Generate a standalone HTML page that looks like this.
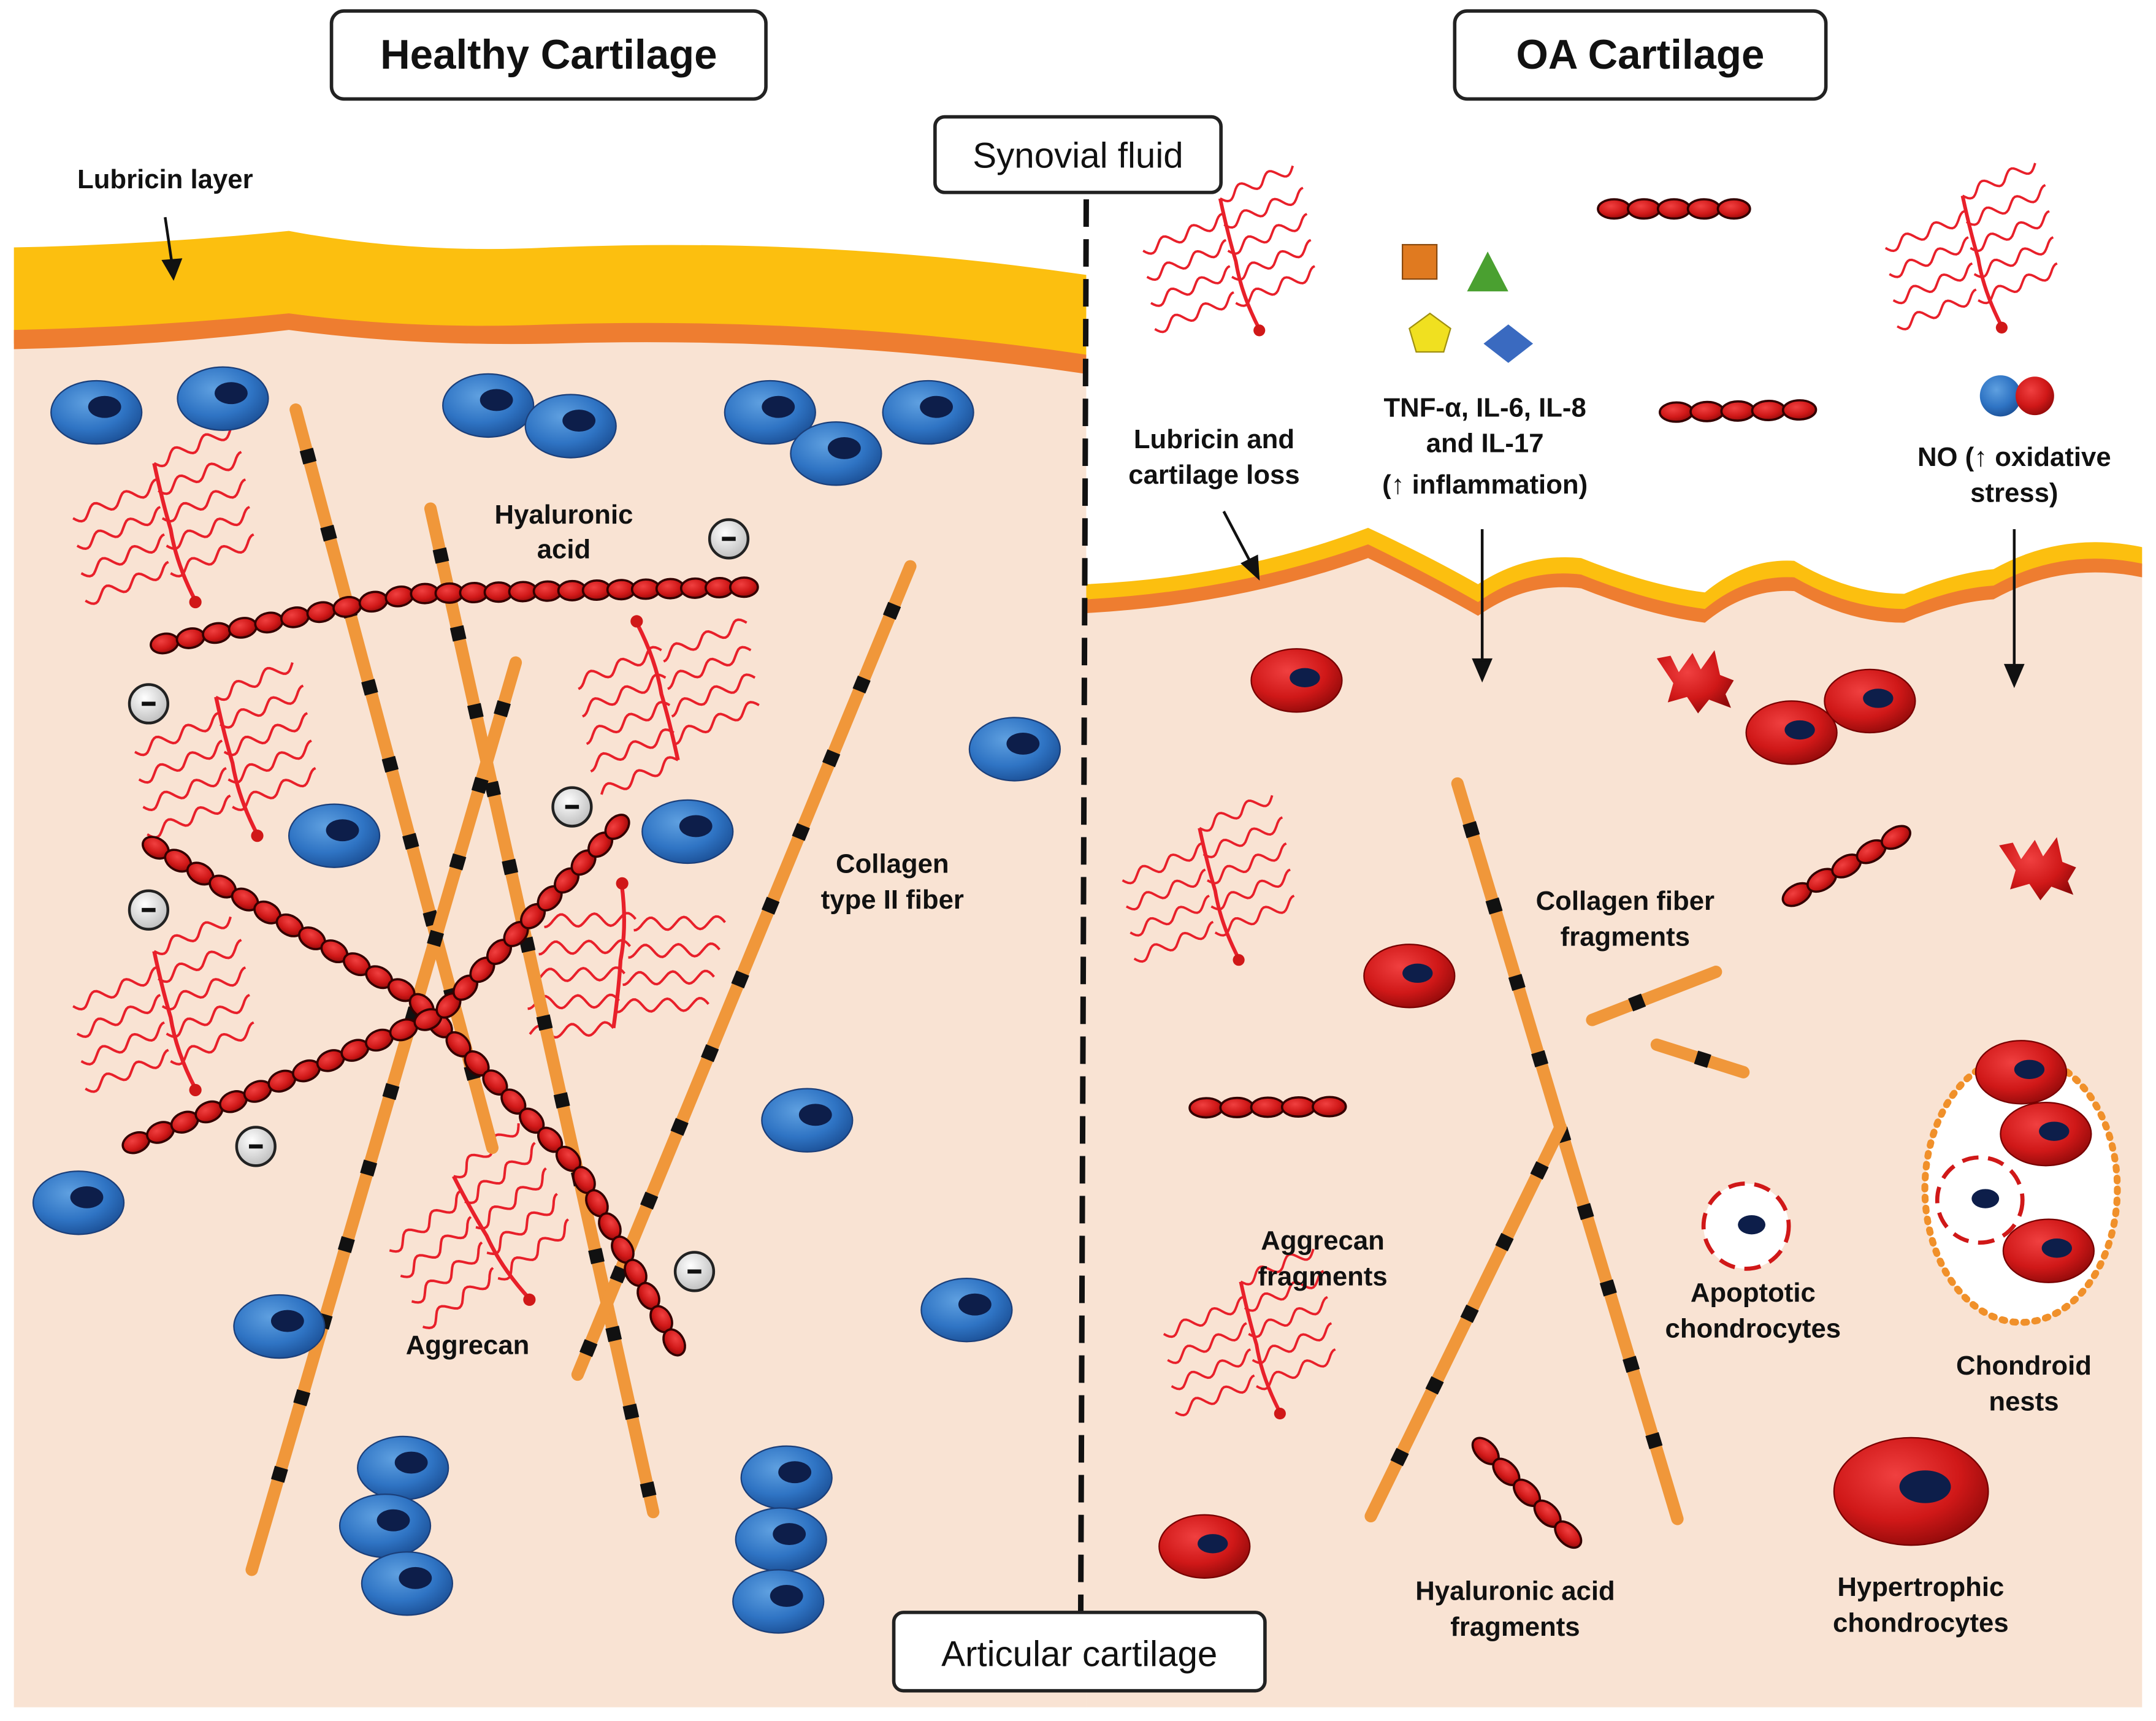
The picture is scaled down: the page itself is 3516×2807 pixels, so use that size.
<!DOCTYPE html>
<html><head><meta charset="utf-8">
<style>
html,body{margin:0;padding:0;background:#fff;}
svg{display:block;}
text{font-family:"Liberation Sans",Arial,sans-serif;}
.lb{font-weight:bold;font-size:19.5px;fill:#111;text-anchor:middle;}
</style></head><body>
<svg id="s" width="3516" height="2807" viewBox="0 0 1568 1252" xmlns="http://www.w3.org/2000/svg">
<defs>
<radialGradient id="gb" cx="40%" cy="35%" r="70%"><stop offset="0" stop-color="#5fa0e0"/><stop offset="0.6" stop-color="#2f74c4"/><stop offset="1" stop-color="#1b4f95"/></radialGradient>
<radialGradient id="gr" cx="40%" cy="35%" r="70%"><stop offset="0" stop-color="#f04040"/><stop offset="0.6" stop-color="#d01818"/><stop offset="1" stop-color="#900a0a"/></radialGradient>
<radialGradient id="gw" cx="40%" cy="35%" r="70%"><stop offset="0" stop-color="#fff"/><stop offset="1" stop-color="#bbb"/></radialGradient>
</defs>
<rect width="1568" height="1252" fill="#fff"/>
<path d="M10 240 Q110 238 210 228 Q300 240 400 238 Q600 232 790 262 L790 1242 L10 1242 Z" fill="#f9e3d3"/>
<path d="M10 180 Q110 178 210 168 Q300 185 400 180 Q600 172 790 200 L790 265 Q600 238 400 243 Q300 245 210 235 Q110 245 10 250 Z" fill="#fcbf0f"/>
<path d="M10 240 Q110 238 210 228 Q300 240 400 236 Q600 230 790 258 L790 272 Q600 244 400 250 Q300 252 210 240 Q110 252 10 254 Z" fill="#ee7d30"/>
<path d="M790 438 Q900 432 995 398 Q1040 420 1075 440 Q1110 415 1150 420 Q1200 440 1240 445 Q1270 420 1305 422 Q1345 445 1385 445 Q1420 430 1450 428 Q1500 400 1558 412 L1558 1242 L790 1242 Z" fill="#f9e3d3"/>
<path d="M790 425 Q900 420 995 384 Q1040 405 1075 425 Q1110 402 1150 406 Q1200 426 1240 431 Q1270 406 1305 408 Q1345 432 1385 432 Q1420 417 1450 414 Q1500 386 1558 398 L1558 412 Q1500 400 1450 428 Q1420 430 1385 445 Q1345 445 1305 422 Q1270 420 1240 445 Q1200 440 1150 420 Q1110 415 1075 440 Q1040 420 995 398 Q900 432 790 438 Z" fill="#fcbf0f"/>
<path d="M790 436 Q900 430 995 396 Q1040 418 1075 438 Q1110 413 1150 418 Q1200 438 1240 443 Q1270 418 1305 420 Q1345 443 1385 443 Q1420 428 1450 426 Q1500 398 1558 410 L1558 420 Q1500 408 1450 436 Q1420 438 1385 453 Q1345 453 1305 430 Q1270 428 1240 453 Q1200 448 1150 428 Q1110 423 1075 448 Q1040 428 995 406 Q900 440 790 446 Z" fill="#ee7d30"/>
<line x1="790" y1="145" x2="786" y2="1172" stroke="#111" stroke-width="4" stroke-dasharray="20 9"/>
<g id="g"></g>
<g stroke="#111" stroke-width="2" fill="#111">
<line x1="120" y1="158" x2="125" y2="192"/><path d="M119 190 L126 202 L131 189 Z"/>
<line x1="890" y1="372" x2="910" y2="410"/><path d="M904 410 L915 420 L914 405 Z"/>
<line x1="1078" y1="385" x2="1078" y2="482"/><path d="M1072 480 L1078 494 L1084 480 Z"/>
<line x1="1465" y1="385" x2="1465" y2="486"/><path d="M1459 484 L1465 498 L1471 484 Z"/>
</g>
<g fill="#fff" stroke="#222" stroke-width="2.5">
<rect x="241" y="8" width="316" height="64" rx="9"/>
<rect x="1058" y="8" width="270" height="64" rx="9"/>
<rect x="680" y="85" width="208" height="55" rx="7"/>
<rect x="650" y="1173" width="270" height="57" rx="7"/>
</g>
<text x="399" y="50" font-size="30" font-weight="bold" text-anchor="middle" fill="#111">Healthy Cartilage</text>
<text x="1193" y="50" font-size="30" font-weight="bold" text-anchor="middle" fill="#111">OA Cartilage</text>
<text x="784" y="122" font-size="26" text-anchor="middle" fill="#111">Synovial fluid</text>
<text x="785" y="1212" font-size="26" text-anchor="middle" fill="#111">Articular cartilage</text>
<text class="lb" x="120" y="137">Lubricin layer</text>
<text class="lb" x="410" y="381">Hyaluronic</text><text class="lb" x="410" y="406">acid</text>
<text class="lb" x="649" y="635">Collagen</text><text class="lb" x="649" y="661">type II fiber</text>
<text class="lb" x="340" y="985">Aggrecan</text>
<text class="lb" x="883" y="326">Lubricin and</text><text class="lb" x="883" y="352">cartilage loss</text>
<text class="lb" x="1080" y="303">TNF-α, IL-6, IL-8</text><text class="lb" x="1080" y="329">and IL-17</text><text class="lb" x="1080" y="359">(↑ inflammation)</text>
<text class="lb" x="1465" y="339">NO (↑ oxidative</text><text class="lb" x="1465" y="365">stress)</text>
<text class="lb" x="1182" y="662">Collagen fiber</text><text class="lb" x="1182" y="688">fragments</text>
<text class="lb" x="962" y="909">Aggrecan</text><text class="lb" x="962" y="935">fragments</text>
<text class="lb" x="1275" y="947">Apoptotic</text><text class="lb" x="1275" y="973">chondrocytes</text>
<text class="lb" x="1472" y="1000">Chondroid</text><text class="lb" x="1472" y="1026">nests</text>
<text class="lb" x="1102" y="1164">Hyaluronic acid</text><text class="lb" x="1102" y="1190">fragments</text>
<text class="lb" x="1397" y="1161">Hypertrophic</text><text class="lb" x="1397" y="1187">chondrocytes</text>
</svg>
<script>
var G=document.getElementById("g"),h="";
function coll(x1,y1,x2,y2){var dx=x2-x1,dy=y2-y1,L=Math.hypot(dx,dy),ux=dx/L,uy=dy/L;
h+='<line x1="'+x1+'" y1="'+y1+'" x2="'+x2+'" y2="'+y2+'" stroke="#f0973a" stroke-width="9" stroke-linecap="round"/>';
for(var t=35;t<L-15;t+=58){var cx=x1+ux*t,cy=y1+uy*t;h+='<line x1="'+(cx-ux*5)+'" y1="'+(cy-uy*5)+'" x2="'+(cx+ux*5)+'" y2="'+(cy+uy*5)+'" stroke="#111" stroke-width="10"/>';}}
function chain(pts,step){for(var i=0;i<pts.length-1;i++){var a=pts[i],b=pts[i+1],dx=b[0]-a[0],dy=b[1]-a[1],L=Math.hypot(dx,dy),n=Math.max(1,Math.round(L/step)),ang=Math.atan2(dy,dx)*180/Math.PI;
for(var k=0;k<n;k++){var t=(k+0.5)/n,x=a[0]+dx*t,y=a[1]+dy*t;h+='<ellipse cx="'+x+'" cy="'+y+'" rx="'+(step/2+0.8)+'" ry="7" transform="rotate('+ang+' '+x+' '+y+')" fill="url(#gr)" stroke="#300" stroke-width="1.6"/>';}}}
function wave(x1,y1,x2,y2){var dx=x2-x1,dy=y2-y1,L=Math.hypot(dx,dy),nx=-dy/L,ny=dx/L,d="";
for(var i=0;i<=40;i++){var t=i/40,o=4.5*Math.sin(t*L/24*2*Math.PI);d+=(i?"L":"M")+(x1+dx*t+nx*o).toFixed(1)+" "+(y1+dy*t+ny*o).toFixed(1);}return '<path d="'+d+'"/>';}
function agg(cx,cy,s,rot){s=s||1;rot=rot||0;var g='<g transform="translate('+cx+' '+cy+') rotate('+rot+') scale('+s+')" fill="none" stroke="#e8202a" stroke-width="1.8">';
g+='<path d="M-8 -48 Q-2 -20 4 0 Q8 25 22 52" stroke-width="2.8"/>';
g+=wave(-8,-48,48,-72);
for(var j=0;j<4;j++){var y=-32+j*20,x=-5+j*3;g+=wave(x-62,y+24,x,y);g+=wave(x,y+4,x+62,y-20);}
g+='<circle cx="22" cy="53" r="4.5" fill="#d01818" stroke="none"/></g>';h+=g;}
function bc(x,y){h+='<ellipse cx="'+x+'" cy="'+y+'" rx="33" ry="23" fill="url(#gb)" stroke="#1b3f7a" stroke-width="1"/><ellipse cx="'+(x+6)+'" cy="'+(y-4)+'" rx="12" ry="8" fill="#0d1e4a"/>';}
function rc(x,y,s){s=s||1;h+='<ellipse cx="'+x+'" cy="'+y+'" rx="'+33*s+'" ry="'+23*s+'" fill="url(#gr)" stroke="#700" stroke-width="1"/><ellipse cx="'+(x+6*s)+'" cy="'+(y-2*s)+'" rx="'+11*s+'" ry="'+7*s+'" fill="#0d1e4a"/>';}
function minus(x,y){h+='<circle cx="'+x+'" cy="'+y+'" r="14" fill="url(#gw)" stroke="#222" stroke-width="2"/><line x1="'+(x-5)+'" y1="'+y+'" x2="'+(x+5)+'" y2="'+y+'" stroke="#111" stroke-width="3"/>';}
function frag(x,y){h+='<path transform="translate('+x+' '+y+')" d="M-28 -18 L-18 -20 L-12 -8 L-2 -22 L4 -10 L14 -24 L18 -6 L28 -2 L22 8 L26 18 L10 12 L2 22 L-6 10 L-20 14 L-16 0 Z" fill="url(#gr)"/>';}
agg(120,385,1,0);agg(485,505,1,180);agg(165,555,1,0);agg(455,700,1,200);agg(120,740,1,0);agg(350,900,1,-15);
coll(215,298,358,835);coll(313,370,475,1100);coll(375,482,183,1142);coll(662,412,420,1000);
chain([[110,470],[300,432],[550,427]],18.5);
chain([[105,612],[300,725],[420,850],[495,985]],18.5);
chain([[90,835],[320,738],[455,595]],18.5);
[[70,300],[162,290],[355,295],[415,310],[560,300],[608,330],[675,300],[738,545],[243,608],[500,605],[587,815],[57,875],[203,965],[703,953],[293,1068],[280,1110],[296,1152],[572,1075],[568,1120],[566,1165]].forEach(function(a){bc(a[0],a[1]);});
[[530,392],[108,512],[416,587],[108,662],[186,834],[505,925]].forEach(function(a){minus(a[0],a[1]);});
agg(895,190,0.95,0);agg(1435,188,0.95,0);agg(880,648,0.95,0);agg(910,978,0.95,0);
coll(1060,570,1220,1105);coll(1135,820,997,1103);coll(1158,742,1248,707);coll(1205,760,1268,780);
chain([[1163,152],[1272,152]],21.8);chain([[1208,300],[1320,298]],22.4);chain([[1298,656],[1388,604]],20.8);chain([[866,806],[978,805]],22.4);chain([[1073,1048],[1148,1124]],21.3);
[[943,495],[1303,533],[1360,510],[1025,710],[876,1125]].forEach(function(a){rc(a[0],a[1]);});
rc(1390,1085,1.7);
frag(1233,497);frag(1482,633);
h+='<circle cx="1270" cy="892" r="31" fill="#fff" stroke="#d01818" stroke-width="3" stroke-dasharray="12 7"/><ellipse cx="1274" cy="891" rx="10" ry="7" fill="#0d1e4a"/>';
h+='<ellipse cx="1470" cy="865" rx="70" ry="97" fill="#fff" stroke="#f0902a" stroke-width="5" stroke-dasharray="2 6" stroke-linecap="round"/>';
h+='<circle cx="1440" cy="873" r="31" fill="#fff" stroke="#d01818" stroke-width="3" stroke-dasharray="12 7"/><ellipse cx="1444" cy="872" rx="10" ry="7" fill="#0d1e4a"/>';
[[1470,780],[1488,825],[1490,910]].forEach(function(a){rc(a[0],a[1]);});
h+='<rect x="1020" y="178" width="25" height="25" fill="#e07a20" stroke="#8a4a10"/><path d="M1082 183 L1097 212 L1067 212 Z" fill="#4aa030"/><path d="M1040 228 L1055 239 L1050 256 L1030 256 L1025 239 Z" fill="#f0e020" stroke="#a09010"/><path d="M1097 236 L1115 250 L1097 264 L1079 250 Z" fill="#3a6ac0"/>';
h+='<circle cx="1455" cy="288" r="15" fill="url(#gb)"/><circle cx="1480" cy="288" r="14" fill="url(#gr)"/>';
G.innerHTML=h;
</script>
</body></html>
